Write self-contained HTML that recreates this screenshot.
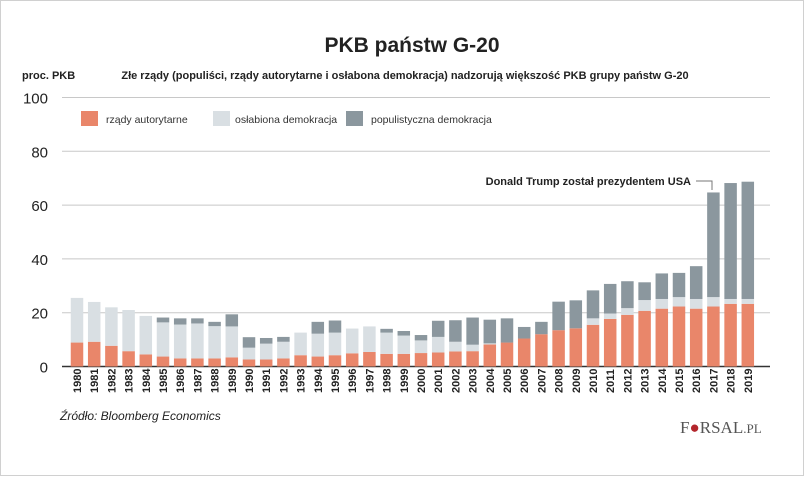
<!DOCTYPE html>
<html><head><meta charset="utf-8"><style>
html,body{margin:0;padding:0;background:#fff}
body{width:805px;height:476px;overflow:hidden;font-family:"Liberation Sans",sans-serif}
</style></head><body>
<svg width="805" height="476" viewBox="0 0 805 476" xmlns="http://www.w3.org/2000/svg">
<rect x="0.5" y="0.5" width="803" height="475" fill="#fff" stroke="#d0d0d0"/>
<text x="412" y="52" text-anchor="middle" font-size="21" font-weight="bold" fill="#222">PKB państw G-20</text>
<text x="405" y="79" text-anchor="middle" font-size="11" font-weight="bold" fill="#222">Złe rządy (populiści, rządy autorytarne i osłabona demokracja) nadzorują większość PKB grupy państw G-20</text>
<text x="22" y="79" font-size="11" font-weight="bold" fill="#222">proc. PKB</text>
<g id="grid"></g>
<g id="bars"></g>
<g id="xlabels"></g>
<g>
<rect x="81" y="111" width="17" height="15" fill="#e9866a"/>
<text x="106" y="123" font-size="10.5" fill="#333">rządy autorytarne</text>
<rect x="213" y="111" width="17" height="15" fill="#d9dfe3"/>
<text x="235" y="123" font-size="10.5" fill="#333">osłabiona demokracja</text>
<rect x="346" y="111" width="17" height="15" fill="#8b979e"/>
<text x="371" y="123" font-size="10.5" fill="#333">populistyczna demokracja</text>
</g>
<text x="691" y="185" text-anchor="end" font-size="11" font-weight="bold" fill="#222">Donald Trump został prezydentem USA</text>
<polyline points="696,181 712,181 712,190" fill="none" stroke="#777" stroke-width="1"/>
<text x="60" y="420" font-size="12" font-style="italic" fill="#222">Źródło: Bloomberg Economics</text>
<g>
<text x="680" y="433" font-family="Liberation Serif,serif" font-size="17" fill="#555">F<tspan fill="#b3262c">●</tspan>RSAL<tspan font-size="13">.PL</tspan></text>
</g>
</svg>
<script>
const years=[];for(let y=1980;y<=2019;y++)years.push(y);
const authoritarian=[8.9,9.2,7.7,5.7,4.5,3.7,3,3,3,3.4,2.6,2.6,3,4.2,3.7,4.2,4.9,5.4,4.7,4.7,5,5.2,5.6,5.7,8.2,8.9,10.4,12,13.5,14.2,15.5,17.7,19.2,20.7,21.5,22.3,21.5,22.3,23.3,23.3];
const weakened=[16.6,14.8,14.3,15.3,14.3,12.7,12.6,13,12,11.5,4.4,5.9,6.2,8.4,8.5,8.4,9.2,9.5,7.9,6.8,4.7,5.8,3.6,2.4,0.4,0,0,0,0,0,2.4,2,2.5,4,3.6,3.5,3.6,3.5,1.8,1.8];
const populist=[0,0,0,0,0,1.8,2.3,1.9,1.6,4.5,3.9,2.1,1.8,0,4.4,4.5,0,0,1.4,1.7,2,6,8,10.1,8.8,9,4.3,4.6,10.6,10.4,10.4,11,10,6.6,9.5,9,12.2,38.9,43.1,43.6];
const yTicks=[0,20,40,60,80,100];
const NS="http://www.w3.org/2000/svg";
const y0=366.5, pxPer=2.69;
const yS=v=>y0-v*pxPer;
const xS=i=>77+i*17.2;
const bw=12.5;
const grid=document.getElementById('grid');
yTicks.forEach(t=>{
 const l=document.createElementNS(NS,'line');
 l.setAttribute('x1',62);l.setAttribute('x2',770);
 l.setAttribute('y1',yS(t));l.setAttribute('y2',yS(t));
 l.setAttribute('stroke',t===0?'#333':'#c8c8c8');l.setAttribute('stroke-width',t===0?1.5:1);
 
 
 grid.appendChild(l);
 const tx=document.createElementNS(NS,'text');
 tx.setAttribute('x',48);tx.setAttribute('y',yS(t)+6);
 tx.setAttribute('text-anchor','end');tx.setAttribute('font-size','15');tx.setAttribute('fill','#222');
 tx.textContent=t;
 
 
 grid.appendChild(tx);
});
const bars=document.getElementById('bars');
const xl=document.getElementById('xlabels');
const series=[[authoritarian,'#e9866a','authoritarian'],[weakened,'#d9dfe3','weakened'],[populist,'#8b979e','populist']];
years.forEach((yr,i)=>{
 let base=0;
 series.forEach(([arr,col,nm])=>{
  const v=arr[i];
  if(v>0){
   const r=document.createElementNS(NS,'rect');
   r.setAttribute('x',xS(i)-bw/2);r.setAttribute('width',bw);
   r.setAttribute('y',yS(base+v));r.setAttribute('height',v*pxPer);
   r.setAttribute('fill',col);
   
   
   bars.appendChild(r);
  }
  base+=v;
 });
 const t=document.createElementNS(NS,'text');
 const x=xS(i)+4,y=393;
 t.setAttribute('x',x);t.setAttribute('y',y);
 t.setAttribute('transform','rotate(-90 '+x+' '+y+')');
 t.setAttribute('font-size','11');t.setAttribute('font-weight','bold');t.setAttribute('fill','#222');
 t.textContent=yr;
 
 
 xl.appendChild(t);
});
</script>
</body></html>
